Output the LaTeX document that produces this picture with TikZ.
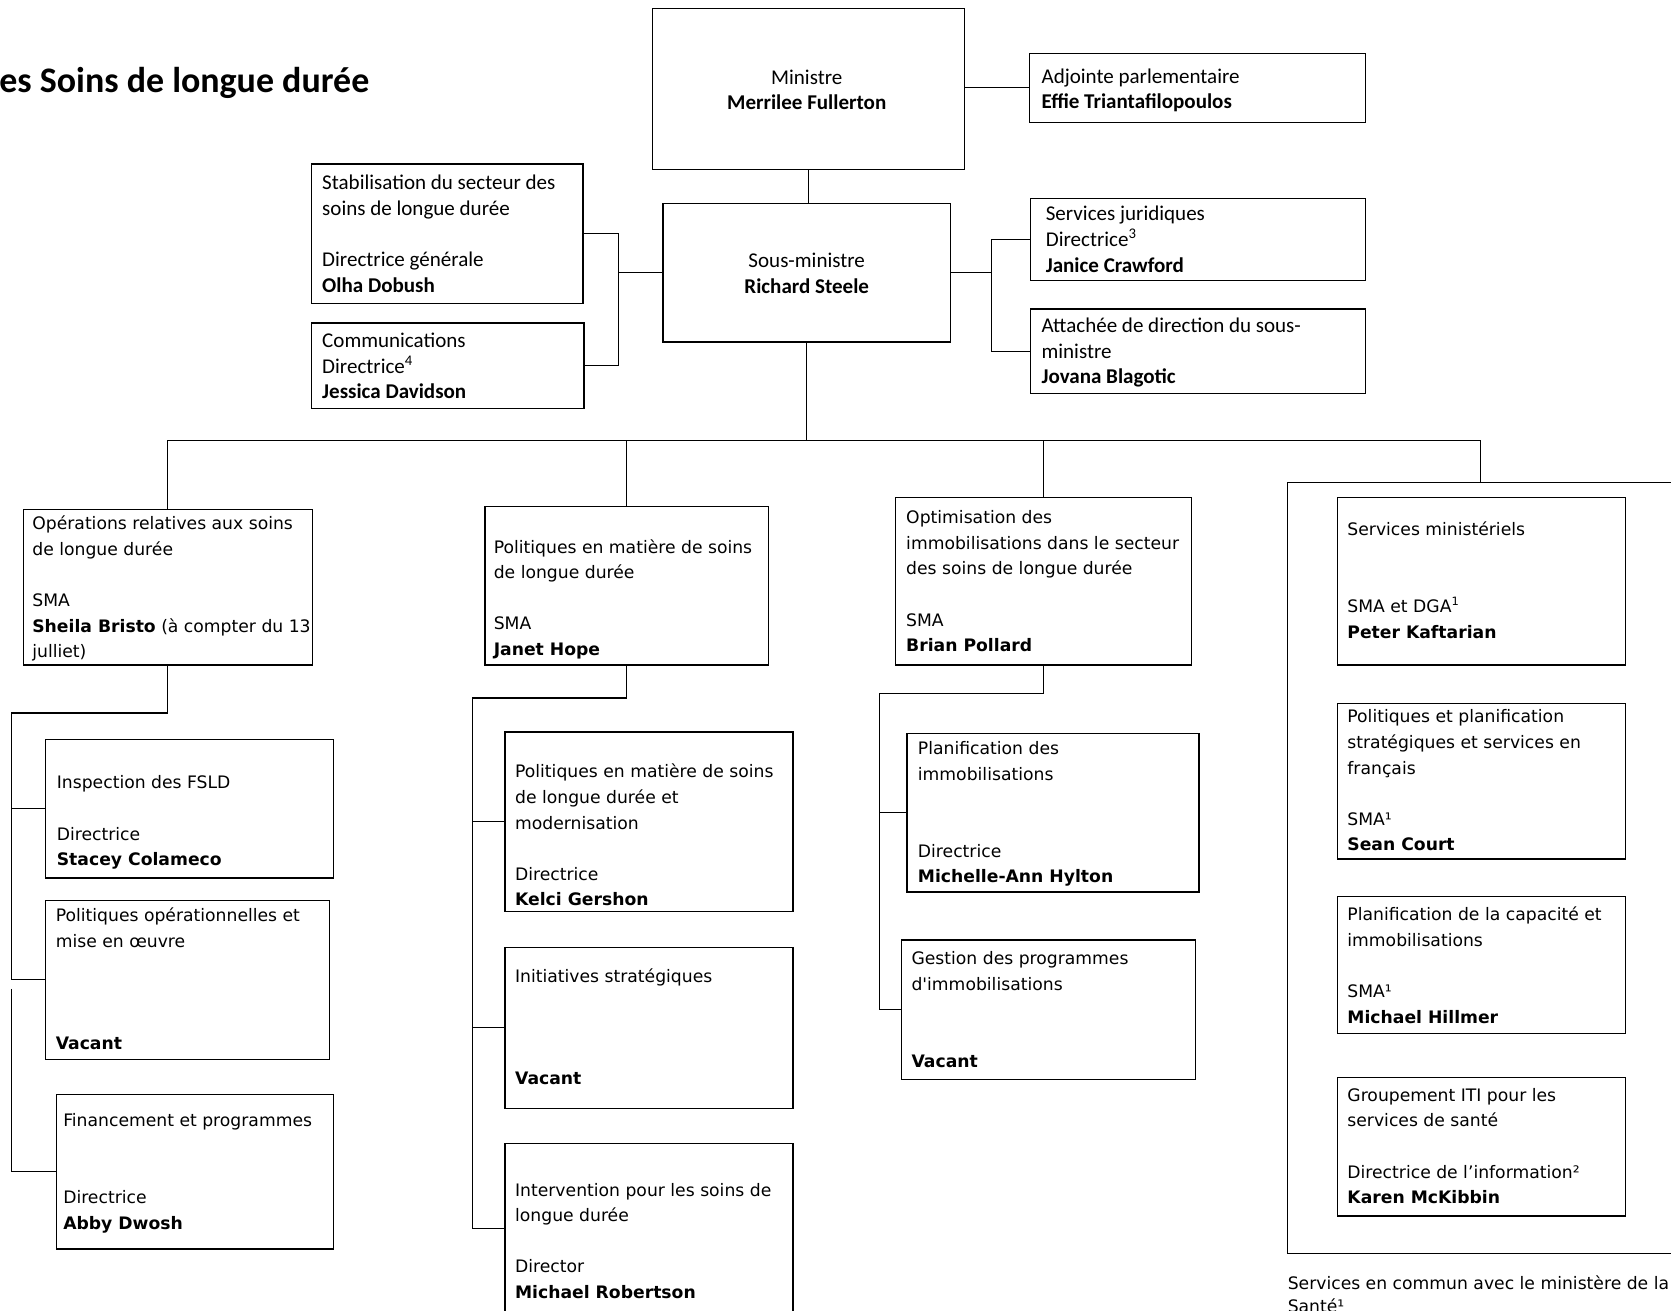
\documentclass[tikz,border=0pt]{standalone}
\usepackage{fontspec}
\setmainfont{Carlito}
\newfontfamily\verd{DejaVu Sans}
\usetikzlibrary{fit}

\tikzset{
  box/.style={draw, inner sep=0pt, line width=0.7pt},
  link/.style={line width=0.6pt},
  cal/.style={inner sep=0pt, anchor=north west, yshift=6.6pt, align=left,
    font=\fontsize{11}{13.4}\selectfont, execute at begin node=\strut},
  ver/.style={cal, font=\verd\fontsize{9}{13.4}\selectfont}
}

\begin{document}
\begin{tikzpicture}[x=0.5576pt, y=-0.5576pt]
\useasboundingbox (0,0) rectangle (1568,1230);
\clip (0,0) rectangle (1568,1230);

\node[inner sep=0pt, anchor=base west, font=\bfseries\fontsize{18.8}{22}\selectfont] (titre) at (-1,87) {es Soins de longue durée};

\node[box, fit={(612,8) (905,159)}] (min) {};
\node[box, fit={(966,50) (1281,115)}] (adj) {};
\node[box, fit={(622,191) (892,321)}] (sm) {};
\node[box, fit={(292,154) (547,285)}] (stab) {};
\node[box, fit={(292,303) (548,383)}] (comm) {};
\node[box, fit={(967,186) (1281,263)}] (jur) {};
\node[box, fit={(967,290) (1281,369)}] (att) {};
\node[box, fit={(22,478) (293,624)}] (ops) {};
\node[box, fit={(43,694) (313,824)}] (insp) {};
\node[box, fit={(43,845) (309,994)}] (polop) {};
\node[box, fit={(53,1027) (313,1172)}] (fin) {};
\node[box, fit={(455,475) (721,624)}] (pol) {};
\node[box, fit={(474,687) (744,855)}] (mod) {};
\node[box, fit={(474,889) (744,1040)}] (ini) {};
\node[box, fit={(474,1073) (744,1233)}] (inter) {};
\node[box, fit={(840,467) (1118,624)}] (opt) {};
\node[box, fit={(851,688) (1125,837)}] (plan) {};
\node[box, fit={(846,882) (1122,1013)}] (ges) {};
\node[box, fit={(1208,453) (1570,1176)}] (grp) {};
\node[box, fit={(1255,467) (1525,624)}] (smin) {};
\node[box, fit={(1255,660) (1525,806)}] (ppl) {};
\node[box, fit={(1255,841) (1525,970)}] (cap) {};
\node[box, fit={(1255,1011) (1525,1141)}] (iti) {};

\node[cal, anchor=north, align=center] (min-t) at (757,77) {Ministre\\\textbf{Merrilee Fullerton}};
\node[cal] (adj-t) at (977,76) {Adjointe parlementaire\\\textbf{Effie Triantafilopoulos}};
\node[cal, anchor=north, align=center] (sm-t) at (757,249) {Sous-ministre\\\textbf{Richard Steele}};
\node[cal] (stab-t) at (302,176) {Stabilisation du secteur des\\soins de longue durée\\[13.4pt]Directrice générale\\\textbf{Olha Dobush}};
\node[cal] (comm-t) at (302,324) {Communications\\Directrice\textsuperscript{4}\\\textbf{Jessica Davidson}};
\node[cal] (jur-t) at (981,205) {Services juridiques\\Directrice\textsuperscript{3}\\\textbf{Janice Crawford}};
\node[cal] (att-t) at (977,310) {Attachée de direction du sous-\\ministre\\\textbf{Jovana Blagotic}};

\node[ver] (ops-t) at (30,495.5) {Opérations relatives aux soins\\de longue durée\\[13.4pt]SMA\\\textbf{Sheila Bristo} (à compter du 13\\julliet)};
\node[ver] (insp-t) at (53,739.5) {Inspection des FSLD\\[13.4pt]Directrice\\\textbf{Stacey Colameco}};
\node[ver] (polop-t) at (52,863.5) {Politiques opérationnelles et\\mise en œuvre\\[40.2pt]\textbf{Vacant}};
\node[ver] (fin-t) at (59,1056.5) {Financement et programmes\\[26.8pt]Directrice\\\textbf{Abby Dwosh}};
\node[ver] (pol-t) at (463,517.5) {Politiques en matière de soins\\de longue durée\\[13.4pt]SMA\\\textbf{Janet Hope}};
\node[ver] (mod-t) at (483,728.5) {Politiques en matière de soins\\de longue durée et\\modernisation\\[13.4pt]Directrice\\\textbf{Kelci Gershon}};
\node[ver] (ini-t) at (483,920.5) {Initiatives stratégiques\\[40.2pt]\textbf{Vacant}};
\node[ver] (inter-t) at (483,1121.5) {Intervention pour les soins de\\longue durée\\[13.4pt]Director\\\textbf{Michael Robertson}};
\node[ver] (opt-t) at (850,490.5) {Optimisation des\\immobilisations dans le secteur\\des soins de longue durée\\[13.4pt]SMA\\\textbf{Brian Pollard}};
\node[ver] (plan-t) at (861,707.5) {Planification des\\immobilisations\\[26.8pt]Directrice\\\textbf{Michelle-Ann Hylton}};
\node[ver] (ges-t) at (855,904.5) {Gestion des programmes\\d'immobilisations\\[26.8pt]\textbf{Vacant}};
\node[ver] (smin-t) at (1264,501.5) {Services ministériels\\[26.8pt]SMA et DGA\textsuperscript{1}\\\textbf{Peter Kaftarian}};
\node[ver] (ppl-t) at (1264,677.5) {Politiques et planification\\stratégiques et services en\\français\\[13.4pt]SMA¹\\\textbf{Sean Court}};
\node[ver] (cap-t) at (1264,862.5) {Planification de la capacité et\\immobilisations\\[13.4pt]SMA¹\\\textbf{Michael Hillmer}};
\node[ver] (iti-t) at (1264,1032.5) {Groupement ITI pour les\\services de santé\\[13.4pt]Directrice de l’information²\\\textbf{Karen McKibbin}};
\node[ver, font=\verd\fontsize{9}{11.7}\selectfont] (grp-t) at (1208,1209) {Services en commun avec le ministère de la\\Santé¹};

\coordinate (lbus) at (580,256);
\coordinate (rbus) at (930,256);
\coordinate (mbus) at (757,413);
\coordinate (obus) at (11,669);
\coordinate (obus2) at (11,928);
\coordinate (pbus) at (443,655);
\coordinate (qbus) at (825,651);

\draw[link] (min.south) -- (min.south |- sm.north);
\draw[link] (min.east |- adj.west) -- (adj.west);
\draw[link] (sm.west) -- (lbus);
\draw[link] (stab.east) -| (lbus) |- (comm.east);
\draw[link] (sm.east) -- (rbus);
\draw[link] (jur.west) -| (rbus) |- (att.west);
\draw[link] (sm.south) -- (sm.south |- mbus);
\draw[link] (ops.north) |- (mbus) -| (grp.north);
\foreach \b in {pol,opt}
  \draw[link] (\b.north) -- (\b.north |- mbus);

\draw[link] (ops.south) |- (obus) |- (polop.west);
\draw[link] (obus |- insp.west) -- (insp.west);
\draw[link] (obus2) |- (fin.west);

\draw[link] (pol.south) |- (pbus) |- (inter.west);
\foreach \b in {mod,ini}
  \draw[link] (pbus |- \b.west) -- (\b.west);

\draw[link] (opt.south) |- (qbus) |- (ges.west);
\draw[link] (qbus |- plan.west) -- (plan.west);
\end{tikzpicture}
\end{document}
